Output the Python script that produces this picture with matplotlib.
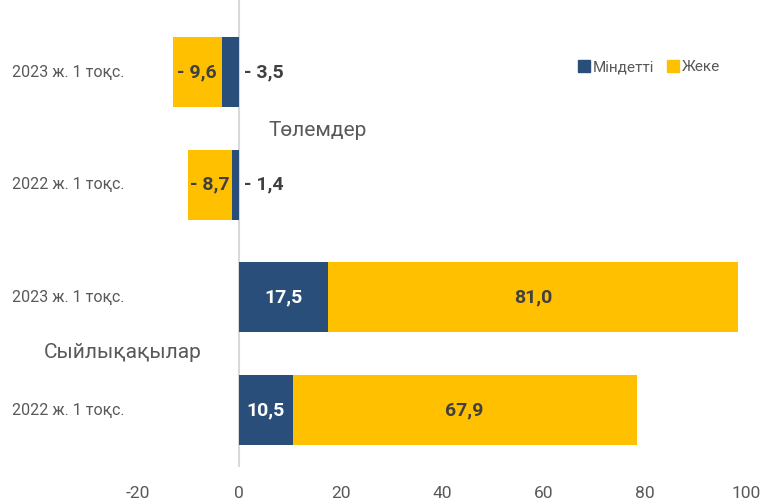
import matplotlib
matplotlib.use("Agg")
import matplotlib.pyplot as plt
import matplotlib.transforms as mtransforms
from matplotlib.patches import Patch

plt.rcParams['font.family'] = ['Roboto', 'DejaVu Sans']

# data, top to bottom in the picture
categories = ["2023 ж. 1 тоқс.", "2022 ж. 1 тоқс.", "2023 ж. 1 тоқс.", "2022 ж. 1 тоқс."]
mandatory = [-3.5, -1.4, 17.5, 10.5]
voluntary = [-9.6, -8.7, 81.0, 67.9]
series_names = ["Міндетті", "Жеке"]
group_names = ["Төлемдер", "Сыйлықақылар"]
xticks = [-20, 0, 20, 40, 60, 80, 100]

navy = "#284E79"
yellow = "#FFC000"
gray = "#595959"
dark = "#404040"


def fmt(v):
    s = ("%.1f" % abs(v)).replace(".", ",")
    return "- " + s if v < 0 else s


fig = plt.figure(figsize=(7.69, 5.03), dpi=100)
ax = fig.add_axes([138 / 769, 36 / 503, 608 / 769, 467 / 503])

n = len(categories)
ypos = [n - 1 - i for i in range(n)]

ax.barh(ypos, mandatory, height=0.62, color=navy)
ax.barh(ypos, voluntary, left=mandatory, height=0.62, color=yellow)

for y, m, v in zip(ypos, mandatory, voluntary):
    if m < 0:
        ax.text(1.0, y, fmt(m), ha='left', va='center', fontsize=14,
                fontweight='bold', color=dark)
    else:
        ax.text(m / 2, y, fmt(m), ha='center', va='center', fontsize=14,
                fontweight='bold', color='white')
    ax.text(m + v / 2, y, fmt(v), ha='center', va='center', fontsize=14,
            fontweight='bold', color=dark)

ax.axvline(0, color="#D9D9D9", lw=1.5, zorder=0)

ax.set_xlim(-20, 100)
ax.set_ylim(-0.506, 3.64)
ax.set_xticks(xticks)
ax.set_xticklabels([str(t) for t in xticks], fontsize=12.5, color=gray)
ax.tick_params(axis='x', length=0, pad=14)
ax.set_yticks([])
for s in ax.spines.values():
    s.set_visible(False)

trans = mtransforms.blended_transform_factory(fig.transFigure, ax.transData)
for y, c in zip(ypos, categories):
    ax.text(12 / 769, y, c, transform=trans, ha='left', va='center',
            fontsize=11.5, color=gray)

fig.text(318 / 769, 1 - 131 / 503, group_names[0], ha='center', va='center',
         fontsize=15, color=gray)
fig.text(123 / 769, 1 - 353 / 503, group_names[1], ha='center', va='center',
         fontsize=15, color=gray)

handles = [Patch(color=navy), Patch(color=yellow)]
fig.legend(handles, series_names, loc='center',
           bbox_to_anchor=(649 / 769, 1 - 67 / 503), ncol=2, frameon=False,
           handlelength=0.8, handleheight=0.8, handletextpad=0.2,
           columnspacing=0.8, prop={'size': 11}, labelcolor=gray)

fig.savefig("out.png", dpi=100)
